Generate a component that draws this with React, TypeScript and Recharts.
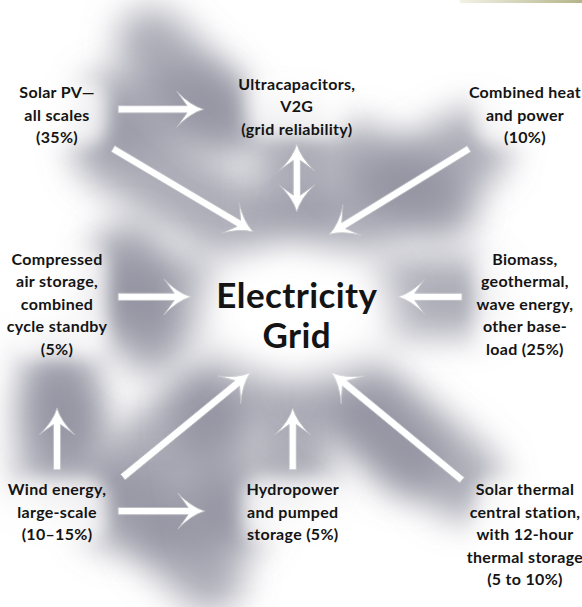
import React from "react";
import {
  ScatterChart,
  Scatter,
  XAxis,
  YAxis,
  ReferenceLine,
  ReferenceDot,
} from "recharts";

// diagram units: 0..100 across and 0..100 down
const LABELS: string[][] = [
  ["Solar PV\u2014", "all scales", "(35%)"],
  ["Ultracapacitors,", "V2G", "(grid reliability)"],
  ["Combined heat", "and power", "(10%)"],
  ["Compressed", "air storage,", "combined", "cycle standby", "(5%)"],
  ["Biomass,", "geothermal,", "wave energy,", "other base-", "load (25%)"],
  ["Wind energy,", "large-scale", "(10\u201315%)"],
  ["Hydropower", "and pumped", "storage (5%)"],
  ["Solar thermal", "central station,", "with 12-hour", "thermal storage", "(5 to 10%)"],
];
const NODE_X = [9.8, 51.0, 90.2, 9.8, 90.2, 9.8, 50.3, 90.2];
const NODE_Y = [15.0, 13.6, 15.0, 42.5, 42.5, 80.4, 80.4, 80.4];

const HUB_LABEL = ["Electricity", "Grid"];
const HUB = { x: 51.0, y: 48.4 };

// [x1, y1, x2 (tip), y2 (tip), double-headed]
const ARROWS: [number, number, number, number, boolean][] = [
  [20.3, 18.0, 35.0, 18.0, false],
  [19.4, 24.5, 43.5, 38.2, false],
  [51.0, 34.9, 51.0, 23.7, true],
  [80.6, 24.5, 56.6, 38.6, false],
  [20.3, 48.9, 32.8, 48.9, false],
  [79.4, 48.9, 68.4, 48.9, false],
  [9.8, 77.4, 9.8, 67.2, false],
  [50.3, 77.4, 50.3, 67.2, false],
  [21.1, 78.6, 43.0, 61.4, false],
  [20.3, 84.2, 35.2, 84.2, false],
  [79.4, 79.1, 57.0, 61.4, false],
];

// extra smudges of the grey cloud
const CLOUD: [number, number, number, number][] = [
  [26, 7, 40, 20],
  [62, 26, 76, 34],
  [28, 88, 36, 95],
  [36, 68, 40, 86],
  [62, 68, 70, 76],
  [10, 60, 12, 70],
  [22, 42, 26, 56],
];

const FONT = "Lato, 'Open Sans', 'DejaVu Sans', sans-serif";
const INK = "#141414";
const GREY = "#8a8a9a";

const nodes = LABELS.map((lines, i) => ({
  x: NODE_X[i],
  y: NODE_Y[i],
  lines,
  size: 16,
  lh: 22.5,
  ls: 0.3,
}));
nodes.push({ x: HUB.x, y: HUB.y, lines: HUB_LABEL, size: 35, lh: 40, ls: 0.4 });

function LabelShape(props: any) {
  const { cx, cy, payload } = props;
  return (
    <text
      x={cx}
      y={cy}
      textAnchor="middle"
      dominantBaseline="central"
      fontFamily={FONT}
      fontSize={payload.size}
      fontWeight={700}
      letterSpacing={payload.ls}
      fill={INK}
    >
      {payload.lines.map((l: string, i: number) => (
        <tspan key={i} x={cx} dy={i === 0 ? 0 : payload.lh}>
          {l}
        </tspan>
      ))}
    </text>
  );
}

// soft white patch behind a label so the cloud thins out around the text
function LabelHalo(props: any) {
  const { cx, cy, payload } = props;
  if (typeof cx !== "number") return null;
  const h = (payload.lines.length - 1) * payload.lh;
  return (
    <rect
      x={cx - 50}
      y={cy - 10}
      width={100}
      height={h + 20}
      rx={20}
      fill="#ffffff"
      fillOpacity={0.8}
      filter="url(#haloBlur)"
    />
  );
}

function headPts(tx: number, ty: number, ux: number, uy: number) {
  const w = 3.6, L = 27, H = 18;
  const nx = -uy, ny = ux;
  const p = (a: number, b: number) =>
    `${(tx - ux * a + nx * b).toFixed(1)},${(ty - uy * a + ny * b).toFixed(1)}`;
  return [
    `L${p(L * 0.62, w)}`,
    `L${p(L, H)}`,
    `Q${p(L * 0.5, H * 0.22)} ${p(0, 0)}`,
    `Q${p(L * 0.5, -H * 0.22)} ${p(L, -H)}`,
    `L${p(L * 0.62, -w)}`,
  ].join(" ");
}

function ArrowShape(props: any) {
  const { x1, y1, x2, y2, both } = props;
  if ([x1, y1, x2, y2].some((v) => typeof v !== "number")) return null;
  const len = Math.hypot(x2 - x1, y2 - y1) || 1;
  const ux = (x2 - x1) / len, uy = (y2 - y1) / len;
  const nx = -uy, ny = ux, w = 3.6;
  const front = headPts(x2, y2, ux, uy).replace(/^L/, "M");
  const back = both
    ? headPts(x1, y1, -ux, -uy)
    : `L${(x1 - nx * w).toFixed(1)},${(y1 - ny * w).toFixed(1)} L${(x1 + nx * w).toFixed(1)},${(y1 + ny * w).toFixed(1)}`;
  return (
    <path
      d={`${front} ${back} Z`}
      fill="#ffffff"
      stroke="#bdbdc4"
      strokeWidth={1}
      strokeLinejoin="round"
    />
  );
}

function CloudShape(props: any) {
  const { x1, y1, x2, y2, width, defs } = props;
  if ([x1, y1, x2, y2].some((v) => typeof v !== "number")) return null;
  return (
    <g>
      {defs && (
        <defs>
          <filter id="cloudBlur" filterUnits="userSpaceOnUse" x={-100} y={-100} width={800} height={800}>
            <feGaussianBlur stdDeviation={17} />
          </filter>
          <filter id="haloBlur" filterUnits="userSpaceOnUse" x={-100} y={-100} width={800} height={800}>
            <feGaussianBlur stdDeviation={9} />
          </filter>
          <filter id="hubGlow" filterUnits="userSpaceOnUse" x={-100} y={-100} width={800} height={800}>
            <feGaussianBlur stdDeviation={20} />
          </filter>
        </defs>
      )}
      <line
        x1={x1}
        y1={y1}
        x2={x2}
        y2={y2}
        stroke={GREY}
        strokeOpacity={0.7}
        strokeWidth={width}
        strokeLinecap="round"
        filter="url(#cloudBlur)"
      />
    </g>
  );
}

function HubGlow(props: any) {
  const { cx, cy } = props;
  if (typeof cx !== "number") return null;
  return <ellipse cx={cx} cy={cy + 18} rx={100} ry={70} fill="#ffffff" filter="url(#hubGlow)" />;
}

function TopRule(props: any) {
  const { x1, y1, x2 } = props;
  if (typeof x1 !== "number") return null;
  return (
    <g>
      <defs>
        <linearGradient id="ruleFill" x1="0" y1="0" x2="1" y2="0">
          <stop offset="0%" stopColor="#f2f2e6" />
          <stop offset="100%" stopColor="#b4b48a" />
        </linearGradient>
      </defs>
      <rect x={x1} y={y1 - 1.5} width={x2 - x1} height={3} fill="url(#ruleFill)" />
    </g>
  );
}

export default function App() {
  return (
    <div style={{ position: "absolute", left: 0, top: 0, background: "#fff" }}>
      <ScatterChart width={582} height={607} margin={{ top: 0, right: 0, bottom: 0, left: 0 }}>
        <XAxis type="number" dataKey="x" domain={[0, 100]} hide allowDataOverflow />
        <YAxis type="number" dataKey="y" domain={[0, 100]} reversed hide allowDataOverflow />
        {ARROWS.map((a, i) => (
          <ReferenceLine
            key={`c${i}`}
            segment={[{ x: a[0], y: a[1] }, { x: a[2], y: a[3] }]}
            ifOverflow="visible"
            shape={(p: any) => <CloudShape {...p} width={80} defs={i === 0} />}
          />
        ))}
        {CLOUD.map((c, i) => (
          <ReferenceLine
            key={`s${i}`}
            segment={[{ x: c[0], y: c[1] }, { x: c[2], y: c[3] }]}
            ifOverflow="visible"
            shape={(p: any) => <CloudShape {...p} width={70} />}
          />
        ))}
        <ReferenceDot x={HUB.x} y={HUB.y} ifOverflow="visible" shape={(p: any) => <HubGlow {...p} />} />
        {nodes.slice(0, LABELS.length).map((n, i) => (
          <ReferenceDot
            key={`h${i}`}
            x={n.x}
            y={n.y}
            ifOverflow="visible"
            shape={(p: any) => <LabelHalo {...p} payload={n} />}
          />
        ))}
        <ReferenceLine
          segment={[{ x: 79, y: 0.25 }, { x: 100, y: 0.25 }]}
          ifOverflow="visible"
          shape={(p: any) => <TopRule {...p} />}
        />
        {ARROWS.map((a, i) => (
          <ReferenceLine
            key={`a${i}`}
            segment={[{ x: a[0], y: a[1] }, { x: a[2], y: a[3] }]}
            ifOverflow="visible"
            shape={(p: any) => <ArrowShape {...p} both={a[4]} />}
          />
        ))}
        <Scatter data={nodes} shape={LabelShape} isAnimationActive={false} />
      </ScatterChart>
    </div>
  );
}
